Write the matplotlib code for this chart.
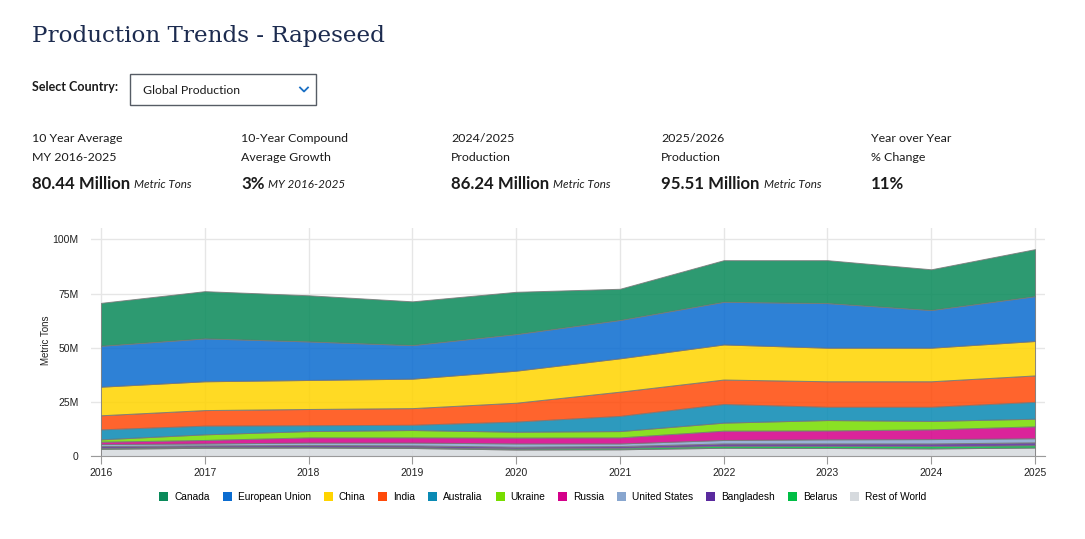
import matplotlib.pyplot as plt
from matplotlib.lines import Line2D
from matplotlib.patches import Patch, Rectangle

# Data (million metric tons)
years = [2016, 2017, 2018, 2019, 2020, 2021, 2022, 2023, 2024, 2025]

canada = [19.8, 21.8, 21.3, 20.2, 19.5, 14.4, 19.2, 19.8, 18.8, 21.7]
eu = [18.9, 19.8, 17.8, 15.5, 16.9, 17.7, 19.7, 20.6, 17.4, 20.7]
china = [13.2, 13.3, 13.4, 13.6, 14.8, 15.4, 16.2, 15.5, 15.5, 15.9]
india = [6.5, 7.2, 7.5, 7.7, 8.7, 11.2, 11.3, 11.8, 11.8, 12.2]
australia = [4.6, 4.0, 2.7, 2.4, 4.7, 7.0, 8.6, 6.1, 6.5, 7.8]
ukraine = [1.1, 2.6, 2.9, 3.4, 2.7, 2.9, 3.7, 4.8, 3.9, 3.5]
russia = [1.1, 1.6, 2.4, 2.4, 2.7, 2.8, 4.3, 4.1, 4.5, 5.5]
united_states = [0.9, 0.9, 1.1, 1.3, 1.5, 1.2, 1.6, 1.9, 2.0, 1.9]
bangladesh = [0.8, 0.7, 0.8, 0.8, 0.8, 0.8, 1.1, 1.1, 1.2, 1.3]
belarus = [0.5, 0.4, 0.4, 0.4, 0.5, 0.7, 0.9, 1.0, 1.1, 1.1]
rest_of_world = [3.3, 3.8, 3.9, 3.7, 3.0, 3.1, 3.8, 3.7, 3.5, 3.9]

# legend order (top of stack first)
countries = ["Canada", "European Union", "China", "India", "Australia", "Ukraine",
             "Russia", "United States", "Bangladesh", "Belarus", "Rest of World"]
series = [canada, eu, china, india, australia, ukraine,
          russia, united_states, bangladesh, belarus, rest_of_world]
colors = ["#0a8a5a", "#0b6cd0", "#ffd400", "#ff4a0a", "#0a8ab4", "#77dd00",
          "#d4008a", "#88a6cf", "#5a2a9e", "#00be45", "#d6dade"]

stats = [
    ("10 Year Average", "MY 2016-2025", "80.44 Million", "Metric Tons"),
    ("10-Year Compound", "Average Growth", "3%", "MY 2016-2025"),
    ("2024/2025", "Production", "86.24 Million", "Metric Tons"),
    ("2025/2026", "Production", "95.51 Million", "Metric Tons"),
    ("Year over Year", "% Change", "11%", ""),
]
stat_x = [32, 241, 451, 661, 871]

W, H = 1085, 539
fig = plt.figure(figsize=(W / 100, H / 100), dpi=100)
renderer = fig.canvas.get_renderer()


def fx(px):
    return px / W


def fy(py):
    return 1 - py / H


ui_font = "Lato"
chart_font = "Liberation Sans"

# Header
fig.text(fx(32), fy(36), "Production Trends - Rapeseed", family="DejaVu Serif",
         fontsize=16.6, color="#1c2b4f", va="center", ha="left")
fig.text(fx(32), fy(87), "Select Country:", family=ui_font, fontweight="bold",
         fontsize=9, color="#1b1b1b", va="center", ha="left")
fig.patches.append(Rectangle((fx(130), fy(105)), fx(186), (105 - 74) / H,
                             transform=fig.transFigure, fill=False,
                             edgecolor="#565c65", linewidth=1))
fig.text(fx(143), fy(90), "Global Production", family=ui_font, fontsize=8.8,
         color="#1b1b1b", va="center", ha="left")
fig.lines.append(Line2D([fx(300), fx(304), fx(308)], [fy(87.5), fy(91.5), fy(87.5)],
                        transform=fig.transFigure, color="#1a6fc4", linewidth=1.3))

# Key figures
for x, (l1, l2, big, small) in zip(stat_x, stats):
    fig.text(fx(x), fy(139), l1, family=ui_font, fontsize=8.9, color="#1b1b1b",
             va="center", ha="left")
    fig.text(fx(x), fy(157), l2, family=ui_font, fontsize=8.9, color="#1b1b1b",
             va="center", ha="left")
    t = fig.text(fx(x), fy(184), big, family=ui_font, fontweight="bold",
                 fontsize=12.1, color="#1b1b1b", va="center", ha="left")
    if small:
        bb = t.get_window_extent(renderer=renderer)
        fig.text((bb.x1 + 4) / W, fy(185), small, family=ui_font, style="italic",
                 fontsize=8.4, color="#1b1b1b", va="center", ha="left")

# Chart
ax = fig.add_axes([fx(91), fy(456), (1045 - 91) / W, (456 - 227.7) / H])
ax.stackplot(years, *series[::-1], colors=colors[::-1], alpha=0.86,
             edgecolor="#7a7a7a", linewidth=0.7, zorder=2)

ax.set_xlim(2016 - 10 / 103.8, 2025 + 10 / 103.8)
ax.set_ylim(0, 105.4)
ax.set_xticks(years)
ax.set_xticklabels([str(y) for y in years])
ax.set_yticks([0, 25, 50, 75, 100])
ax.set_yticklabels(["0", "25M", "50M", "75M", "100M"])
ax.grid(color="#e6e6e6", linewidth=1, zorder=0)
ax.set_axisbelow(True)
for side in ["top", "right", "left"]:
    ax.spines[side].set_visible(False)
ax.spines["bottom"].set_color("#9a9a9a")
ax.tick_params(axis="x", length=6, color="#9a9a9a", pad=3, labelsize=7.5,
               labelcolor="#222222")
ax.tick_params(axis="y", length=0, pad=9, labelsize=7.5, labelcolor="#222222")
for lab in ax.get_xticklabels() + ax.get_yticklabels():
    lab.set_family(chart_font)

fig.text(fx(46), fy(340), "Metric Tons", family=chart_font, fontsize=7,
         color="#222222", rotation=90, va="center", ha="center")

handles = [Patch(facecolor=c, edgecolor="none", label=n)
           for n, c in zip(countries, colors)]
fig.legend(handles=handles, loc="center", bbox_to_anchor=(fx(543), fy(497)),
           ncol=len(countries), frameon=False, handlelength=0.9, handleheight=0.9,
           handletextpad=0.6, columnspacing=1.25,
           prop={"family": chart_font, "size": 7.3})

fig.savefig("out.png", dpi=100, facecolor="white")
